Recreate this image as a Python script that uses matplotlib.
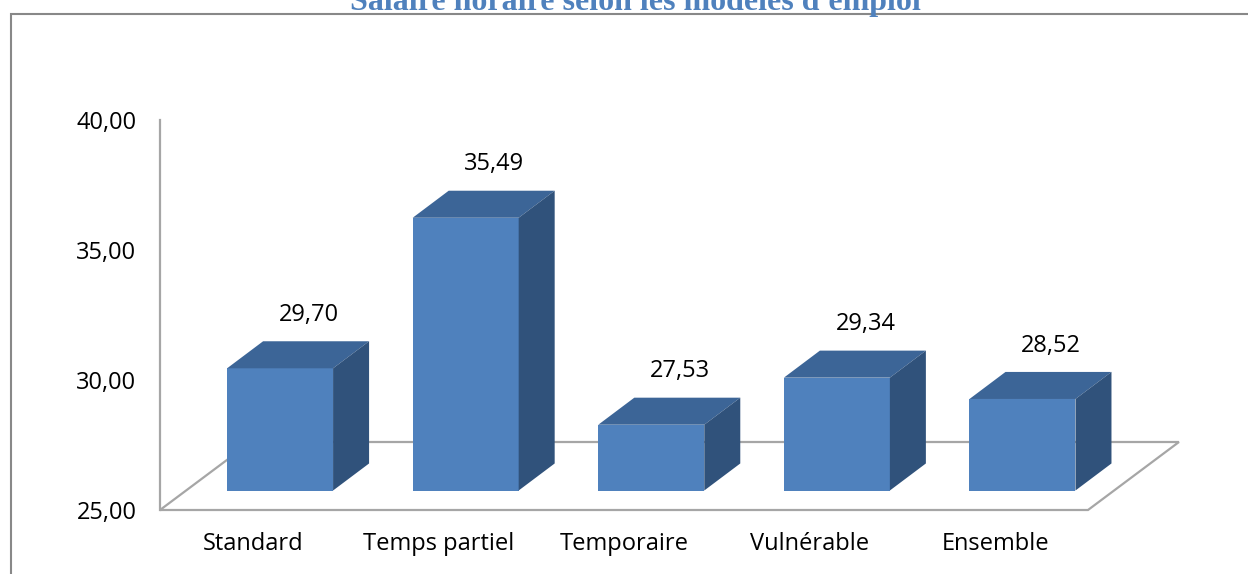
import matplotlib
matplotlib.use("Agg")
import matplotlib.pyplot as plt
from matplotlib.patches import Polygon, Rectangle

# data
categories = ['Standard', 'Temps partiel', 'Temporaire', 'Vulnérable', 'Ensemble']
values = [29.70, 35.49, 27.53, 29.34, 28.52]
y_ticks = [25, 30, 35, 40]
title = "Salaire horaire selon les modèles d'emploi"

# colours
front_col = '#4F81BD'
top_col = '#3C6597'
side_col = '#30527B'
floor_col = '#A6A6A6'

plt.rcParams['font.family'] = ['Open Sans', 'DejaVu Sans']

W, H = 1248, 574
fig = plt.figure(figsize=(W / 100, H / 100), dpi=100)
ax = fig.add_axes([160 / W, (H - 510) / H, 928 / W, 390 / H])
ax.set_xlim(-0.5, 4.5)
ax.set_ylim(25, 40)

# pseudo-3D geometry (in data units)
bar_w = 0.571
off_x, off_y = 0.147, 0.75      # bars sit in middle of floor depth
dep_x, dep_y = 0.194, 1.04      # bar depth
floor_x, floor_y = 0.49, 2.615  # floor depth

floor = Polygon([(-0.5, 25), (4.5, 25), (4.5 + floor_x, 25 + floor_y),
                 (-0.5 + floor_x, 25 + floor_y)], closed=True, fill=False,
                edgecolor=floor_col, lw=1.6, clip_on=False, zorder=1)
ax.add_patch(floor)

base = 25 + off_y
for i, v in enumerate(values):
    xl = i + off_x - bar_w / 2
    xr = i + off_x + bar_w / 2
    top = v + off_y
    ax.bar(i + off_x, top - base, bottom=base, width=bar_w, color=front_col,
           zorder=3, clip_on=False)
    ax.add_patch(Polygon([(xl, top), (xr, top), (xr + dep_x, top + dep_y),
                          (xl + dep_x, top + dep_y)], closed=True,
                         facecolor=top_col, edgecolor='none', zorder=3, clip_on=False))
    ax.add_patch(Polygon([(xr, base), (xr, top), (xr + dep_x, top + dep_y),
                          (xr + dep_x, base + dep_y)], closed=True,
                         facecolor=side_col, edgecolor='none', zorder=3, clip_on=False))
    ax.annotate(f'{v:.2f}'.replace('.', ','), xy=(i + off_x + dep_x * 0.8, top + dep_y),
                xytext=(0, 19), textcoords='offset points', ha='center', va='center',
                fontsize=17, color='black', annotation_clip=False)

ax.set_xticks(range(len(categories)))
ax.set_xticklabels(categories, fontsize=17)
ax.set_yticks(y_ticks)
ax.set_yticklabels([f'{t:.2f}'.replace('.', ',') for t in y_ticks], fontsize=17)
ax.tick_params(axis='both', length=0)
ax.tick_params(axis='y', pad=17)
ax.tick_params(axis='x', pad=16)
for s in ['top', 'right', 'bottom']:
    ax.spines[s].set_visible(False)
ax.spines['left'].set_color(floor_col)
ax.spines['left'].set_linewidth(1.6)
ax.patch.set_visible(False)

# outer frame (right and bottom edges lie outside the picture) and cut-off title
fig.patches.append(Rectangle((11 / W, -0.2), 1.2, 1.2 - 13.5 / H,
                             transform=fig.transFigure, fill=False,
                             edgecolor='#888888', lw=1.5))
fig.text(635 / W, 1 - 10 / H, title, ha='center', va='baseline',
         family='Liberation Serif', fontweight='bold', fontsize=23, color=front_col)

fig.savefig('out.png', dpi=100)
